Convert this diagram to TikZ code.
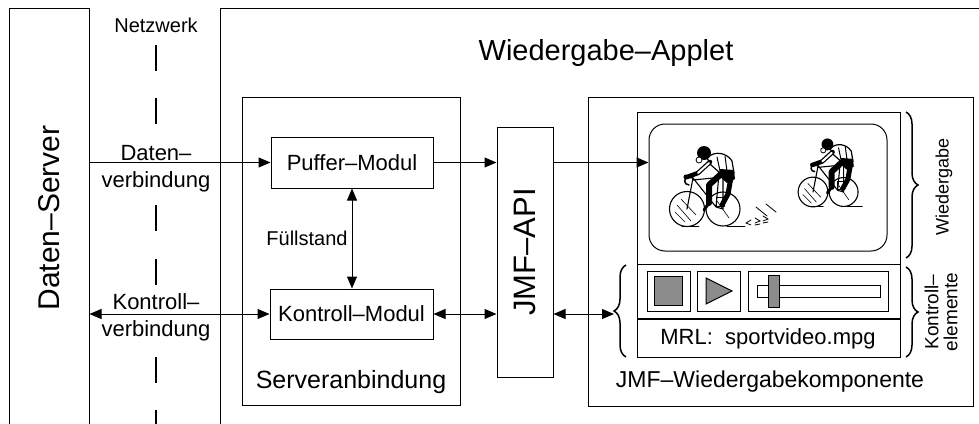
\documentclass[tikz,border=0pt]{standalone}
\usepackage{fontspec}
\setmainfont{Liberation Sans}
\usetikzlibrary{arrows.meta,decorations.pathreplacing}
\def\schrift#1{\fontsize{#1}{#1}\selectfont}
\tikzset{
	kasten/.style={draw, line width=1pt, inner sep=0pt},
	grau/.style={draw, fill=black!45, line width=1pt, inner sep=0pt},
	pfeil/.style={line width=1pt, -{Triangle[length=12pt,width=10pt]}},
	doppelpfeil/.style={line width=1pt, {Triangle[length=12pt,width=10pt]}-{Triangle[length=12pt,width=10pt]}},
	klammer/.style={line width=1.5pt, decorate, decoration={brace, amplitude=12pt}},
	strich/.style={line width=2.5pt},
}
\def\radfahrer(#1,#2)#3{
	\begin{scope}[shift={(#1,#2)}, scale=#3, line cap=round, line join=round]
		% Raeder und Rahmen
		\draw[line width=1.1pt] (0,0) circle (17.5) (36,0) circle (17);
		\draw[line width=0.6pt] (-10,-4) -- (4,12) (-6,-10) -- (9,6) (-12,3) -- (-2,13) (30,-8) -- (42,9);
		\draw[line width=1.1pt] (0,0) -- (6,-31) -- (29,-2) -- (36,0) -- (36,-36) (32,-35) -- (29,-2) (6,-29) -- (36,-32);
		\draw[line width=1pt] (29,-12) rectangle (37,-3);
		\draw[line width=1.5pt] (6,-31) -- (1,-32) .. controls (-4,-31) and (-3,-24) .. (2,-24);
		% Fahrer
		\draw[line width=5pt] (44,-32) -- (41,-15) -- (35,-4);
		\draw[fill=white, line width=1.2pt] (20,-51) .. controls (28,-59) and (40,-56) .. (45,-48) -- (47,-36) -- (33,-36) -- (24,-44) -- cycle;
		\draw[line width=1pt] (30,-52) -- (33,-38) (38,-53) -- (40,-38);
		\fill (33,-40) -- (47,-39) -- (48,-30) -- (40,-26) -- (32,-33) -- cycle;
		\draw[line width=6pt] (34,-35) -- (22,-24) -- (22,-6);
		\draw[line width=3pt] (22,-6) -- (17,1);
		\draw[line width=4.5pt] (23,-47) -- (11,-36) -- (0,-32);
		\draw[white, line width=2pt] (22,-46) -- (11,-36);
		\fill (17,-56) circle (7);
		\draw[fill=white, line width=0.8pt] (12,-49) circle (3);
		\fill (-1,-32) circle (2.5);
		\draw[line width=0.8pt] (-5,17.5) -- (12,17.5) (40,17) -- (58,17);
	\end{scope}
}

\begin{document}
\begin{tikzpicture}[x=1pt, y=-1pt]
	\useasboundingbox (0,0) rectangle (979,423);
	\clip (0,0) rectangle (979,423);

	%%%%% Server und Netzwerk %%%%%
	\node[kasten, minimum width=80pt, minimum height=420pt] (server) at (49,218) {};
	\node[rotate=90, font=\schrift{30}] (servertext) at (server) {Daten--Server};

	\node[font=\schrift{20}] (netz) at (156,25) {Netzwerk};
	\foreach \y in {45,98,205,259,357,410}
		\draw[strich] (156,\y) -- ++(0,26);
	\node[font=\schrift{22}] (daten1) at (156,153) {Daten--};
	\node[font=\schrift{22}] (daten2) at (156,182) {verbindung};
	\node[font=\schrift{22}] (kontr1) at (156,302) {Kontroll--};
	\node[font=\schrift{22}] (kontr2) at (156,331) {verbindung};

	%%%%% Applet %%%%%
	\node[kasten, minimum width=770pt, minimum height=432pt] (applet) at (605,224) {};
	\node[font=\schrift{29}] (applettext) at (606,53) {Wiedergabe--Applet};

	\node[kasten, minimum width=218pt, minimum height=308pt] (anbindung) at (351,251) {};
	\node[kasten, minimum width=162pt, minimum height=51pt, font=\schrift{22}] (puffer) at (352,162.5) {Puffer--Modul};
	\node[kasten, minimum width=163pt, minimum height=50pt, font=\schrift{22}] (kontroll) at (351.5,314) {Kontroll--Modul};
	\node[font=\schrift{20}] (fuell) at (307,238) {Füllstand};
	\node[font=\schrift{25}] (anbindungtext) at (351,382) {Serveranbindung};

	\node[kasten, minimum width=56pt, minimum height=250pt] (api) at (525,252) {};
	\node[rotate=90, font=\schrift{31}] (apitext) at (api) {JMF--API};

	%%%%% Wiedergabekomponente %%%%%
	\node[kasten, minimum width=385pt, minimum height=309pt] (komp) at (780.5,251.5) {};
	\node[kasten, minimum width=263pt, minimum height=245pt] (monitor) at (768.5,234.5) {};
	\node[kasten, rounded corners=16pt, minimum width=238pt, minimum height=127pt] (bild) at (768,187.5) {};
	\draw[line width=1pt] (637,264) -- (900,264);
	\draw[line width=2pt] (637,319) -- (900,319);

	\radfahrer(687,209){1}
	\radfahrer(813,192){0.85}
	\draw[line width=0.8pt, line cap=round] (751,220) -- (746,223) -- (751,225)
		(755,218) -- (760,221) -- (755,223) (755,225) -- (760,224)
		(763,216) -- (768,219) -- (763,221) (763,223) -- (768,222)
		(756,207) -- (767,216) (766,204) -- (776,212);

	\node[kasten, minimum width=43pt, minimum height=40pt] (stopp) at (668.5,291) {};
	\node[grau, minimum width=28pt, minimum height=29pt] (stoppfeld) at (stopp) {};
	\node[kasten, minimum width=43pt, minimum height=40pt] (start) at (718.5,291) {};
	\draw[grau] (706,278) -- (732,291) -- (706,304) -- cycle;
	\node[kasten, minimum width=140pt, minimum height=40pt] (regler) at (818,291) {};
	\node[kasten, minimum width=123pt, minimum height=12pt] (schiene) at (818.5,291) {};
	\node[grau, minimum width=11pt, minimum height=32pt] (knopf) at (773.5,291) {};
	\node[font=\schrift{22}] (mrl) at (768,339) {MRL:~~sportvideo.mpg};
	\node[font=\schrift{23}] (komptext) at (770,382) {JMF--Wiedergabekomponente};

	\draw[klammer] (626,357) -- (626,265);
	\coordinate (klammerspitze) at (614,314);
	\draw[klammer] (906,112) -- (906,258);
	\draw[klammer] (906,267) -- (906,357);
	\node[rotate=90, font=\schrift{18}] (wiedertext) at (944,187) {Wiedergabe};
	\node[rotate=90, font=\schrift{19}, align=center] (elemtext) at (941,312) {Kontroll--\\elemente};

	%%%%% Verbindungen %%%%%
	\draw[pfeil] (server.east |- puffer.west) -- (puffer.west);
	\draw[doppelpfeil] (server.east |- kontroll.west) -- (kontroll.west);
	\draw[doppelpfeil] (puffer.south) -- (puffer.south |- kontroll.north);
	\draw[pfeil] (puffer.east) -- (api.west |- puffer.east);
	\draw[doppelpfeil] (kontroll.east) -- (api.west |- kontroll.east);
	\draw[pfeil] (api.east |- puffer.east) -- (bild.west |- puffer.east);
	\draw[doppelpfeil] (api.east |- kontroll.east) -- (klammerspitze);
\end{tikzpicture}
\end{document}
